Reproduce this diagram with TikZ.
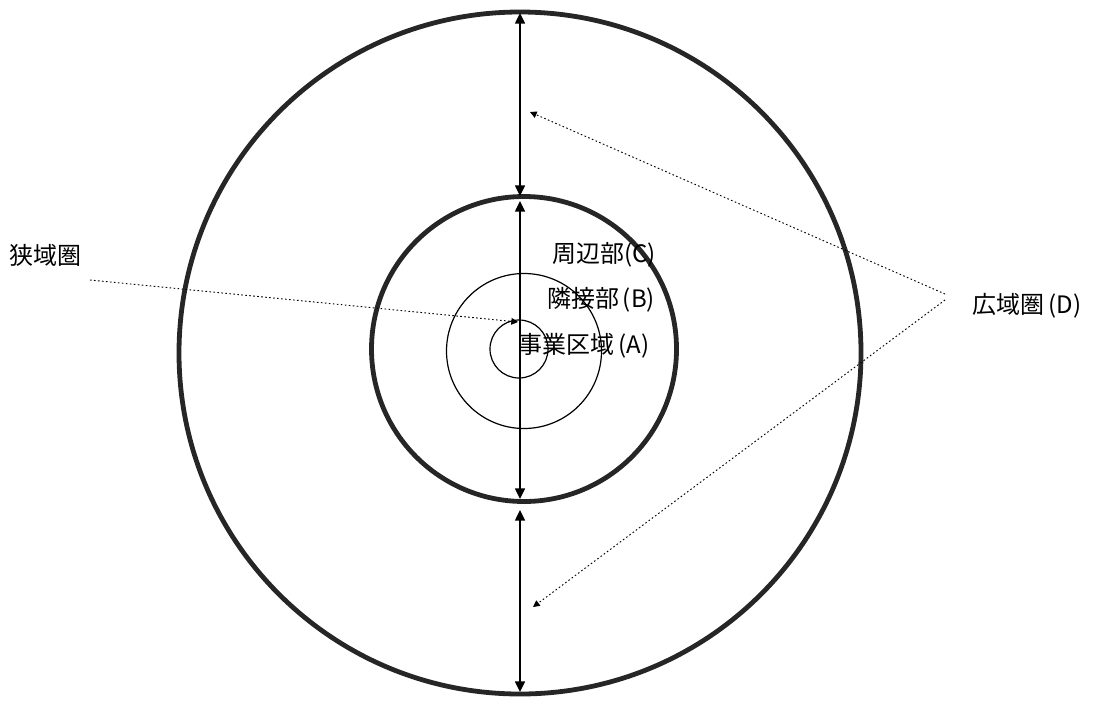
\documentclass[tikz,border=0pt]{standalone}
\usepackage{fontspec}
\newfontfamily\jp{Noto Sans CJK JP}
\usetikzlibrary{arrows.meta}
\begin{document}
\begin{tikzpicture}[x=0.75pt,y=-0.75pt,
  thickring/.style={draw=black!85,line width=3.6pt,circle,inner sep=0pt},
  thinring/.style={draw=black,line width=0.9pt,circle,inner sep=0pt},
  dim/.style={line width=1.1pt,{Triangle[length=8pt,width=7.5pt]}-{Triangle[length=8pt,width=7.5pt]}},
  leader/.style={line width=0.7pt,dash pattern=on 1.2pt off 1.8pt,-{Triangle[length=5pt,width=5pt]}},
  lbl/.style={font=\jp\fontsize{18pt}{20pt}\selectfont,inner sep=0pt}]
\useasboundingbox (0,0) rectangle (1094,700);
\node[thickring,minimum size=682*0.75pt] (D) at (520,353) {};
\node[thickring,minimum size=305*0.75pt] (C) at (524,349) {};
\node[thinring,minimum size=155*0.75pt] (B) at (524,351) {};
\node[thinring,minimum size=58*0.75pt] (A) at (519,349) {};
\coordinate (d1) at (520,13);
\coordinate (d2) at (520,196);
\coordinate (d3) at (520,201);
\coordinate (d4) at (520,499);
\coordinate (d5) at (520,510);
\coordinate (d6) at (520,692);
\draw[dim] (d1) -- (d2);
\draw[dim] (d3) -- (d4);
\draw[dim] (d5) -- (d6);
\node[lbl] (n) at (45,255) {狭域圏};
\node[lbl] (w) at (1027,306) {広域圏\,(D)};
\node[lbl] (c) at (604,255) {周辺部(C)};
\node[lbl] (b) at (601,300) {隣接部\,(B)};
\node[lbl] (a) at (584,346) {事業区域\,(A)};
\coordinate (n0) at (90,280);
\coordinate (n1) at (518,322);
\coordinate (w0) at (945,294);
\coordinate (w1) at (530,112);
\coordinate (w2) at (945,300);
\coordinate (w3) at (533,607);
\draw[leader] (n0) -- (n1);
\draw[leader] (w0) -- (w1);
\draw[leader] (w2) -- (w3);
\end{tikzpicture}
\end{document}
